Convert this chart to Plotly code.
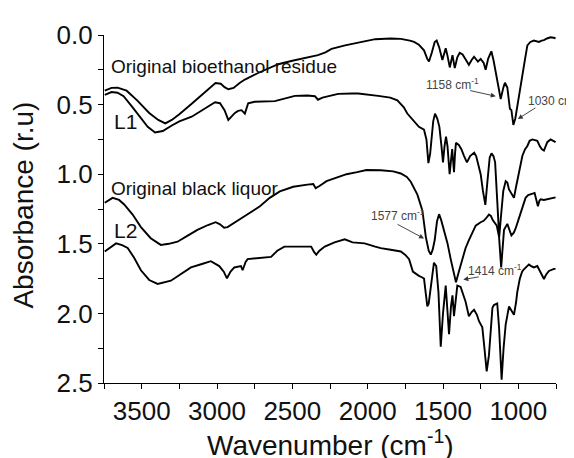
import plotly.graph_objects as go

# ---------------- data ----------------
bio_wn = [3745, 3700, 3660, 3600, 3530, 3450, 3390, 3343, 3300, 3250, 3168, 3080, 3010, 2975, 2950, 2925,
          2890, 2850, 2815, 2727, 2650, 2594, 2500, 2400, 2330, 2280, 2240, 2150, 2020, 1950, 1847, 1780,
          1720, 1692, 1660, 1626, 1605, 1593, 1575, 1555, 1542, 1525, 1504, 1482, 1470, 1455, 1437, 1422,
          1405, 1389, 1370, 1356, 1328, 1310, 1294, 1268, 1250, 1230, 1217, 1200, 1179, 1165, 1157, 1140,
          1122, 1117, 1100, 1089, 1073, 1056, 1046, 1040, 1033, 1020, 1007, 990, 973, 955, 940, 920, 897,
          880, 863, 845, 830, 810, 786, 765, 753]
bio_abs = [0.40, 0.38, 0.378, 0.40, 0.47, 0.56, 0.61, 0.635, 0.61, 0.57, 0.494, 0.41, 0.345, 0.35, 0.375, 0.39,
           0.38, 0.345, 0.32, 0.273, 0.235, 0.21, 0.185, 0.16, 0.145, 0.125, 0.10, 0.075, 0.045, 0.03, 0.025, 0.028,
           0.04, 0.05, 0.07, 0.11, 0.17, 0.19, 0.13, 0.05, 0.04, 0.09, 0.18, 0.095, 0.15, 0.233, 0.145, 0.238,
           0.16, 0.128, 0.14, 0.163, 0.214, 0.18, 0.156, 0.191, 0.172, 0.20, 0.25, 0.17, 0.117, 0.18, 0.226, 0.34,
           0.448, 0.46, 0.38, 0.343, 0.378, 0.53, 0.54, 0.60, 0.646, 0.60, 0.52, 0.40, 0.284, 0.17, 0.075, 0.05, 0.04,
           0.045, 0.05, 0.04, 0.037, 0.025, 0.016, 0.02, 0.023]

l1_wn = [3745, 3700, 3660, 3620, 3560, 3500, 3460, 3411, 3360, 3300, 3250, 3168, 3100, 3013, 2980, 2950,
         2925, 2900, 2881, 2860, 2837, 2815, 2793, 2750, 2616, 2483, 2400, 2350, 2330, 2300, 2196, 2100,
         2063, 1930, 1850, 1803, 1760, 1737, 1692, 1660, 1626, 1610, 1597, 1585, 1565, 1553, 1538, 1524,
         1510, 1500, 1490, 1480, 1470, 1456, 1445, 1439, 1433, 1427, 1420, 1414, 1395, 1378, 1360, 1341,
         1320, 1293, 1280, 1268, 1250, 1235, 1219, 1205, 1190, 1178, 1165, 1154, 1140, 1127, 1115, 1100,
         1084, 1073, 1062, 1045, 1029, 1015, 996, 973, 955, 940, 925, 907, 890, 874, 857, 845, 830, 820,
         808, 786, 765, 753]
l1_abs = [0.43, 0.41, 0.415, 0.44, 0.52, 0.60, 0.66, 0.70, 0.69, 0.65, 0.62, 0.587, 0.54, 0.483, 0.49, 0.54,
          0.61, 0.58, 0.56, 0.545, 0.54, 0.565, 0.49, 0.48, 0.475, 0.437, 0.435, 0.44, 0.465, 0.45, 0.423, 0.42,
          0.42, 0.437, 0.45, 0.47, 0.52, 0.564, 0.622, 0.66, 0.68, 0.75, 0.92, 0.85, 0.62, 0.565, 0.60, 0.66,
          0.80, 0.915, 0.80, 0.73, 0.80, 1.0, 0.88, 0.82, 0.90, 0.985, 0.85, 0.775, 0.79, 0.82, 0.87, 0.915,
          0.87, 0.845, 0.87, 0.915, 1.0, 1.12, 1.22, 1.05, 0.88, 0.85, 0.87, 0.915, 1.15, 1.45, 1.30, 1.12,
          1.05, 1.06, 1.11, 1.14, 1.17, 1.09, 0.98, 0.867, 0.82, 0.797, 0.76, 0.75, 0.755, 0.76, 0.80, 0.82, 0.83, 0.80,
          0.77, 0.75, 0.765, 0.77]

bl_wn = [3745, 3693, 3650, 3616, 3560, 3505, 3440, 3373, 3320, 3262, 3200, 3130, 3060, 3009, 2980, 2953,
         2930, 2900, 2860, 2815, 2715, 2650, 2583, 2494, 2400, 2361, 2345, 2320, 2273, 2200, 2140, 2070,
         2008, 1913, 1830, 1780, 1740, 1714, 1690, 1670, 1637, 1614, 1595, 1581, 1568, 1555, 1540, 1526,
         1512, 1497, 1470, 1449, 1430, 1414, 1395, 1372, 1350, 1328, 1305, 1283, 1250, 1230, 1217, 1195,
         1182, 1170, 1143, 1128, 1114, 1105, 1095, 1073, 1060, 1046, 1030, 1018, 1000, 985, 968, 952, 935,
         918, 905, 892, 880, 870, 860, 852, 830, 808, 780, 753]
bl_abs = [1.205, 1.17, 1.185, 1.217, 1.29, 1.38, 1.46, 1.508, 1.50, 1.485, 1.445, 1.40, 1.365, 1.345, 1.36, 1.385,
          1.38, 1.36, 1.335, 1.30, 1.23, 1.17, 1.124, 1.09, 1.075, 1.07, 1.10, 1.085, 1.05, 1.02, 1.0, 0.985,
          0.97, 0.972, 0.98, 0.995, 1.02, 1.054, 1.10, 1.147, 1.26, 1.45, 1.55, 1.578, 1.54, 1.473, 1.34, 1.287,
          1.33, 1.39, 1.497, 1.61, 1.70, 1.776, 1.70, 1.61, 1.53, 1.473, 1.42, 1.37, 1.345, 1.335, 1.32, 1.29,
          1.30, 1.33, 1.37, 1.45, 1.67, 1.50, 1.40, 1.357, 1.40, 1.44, 1.42, 1.39, 1.33, 1.275, 1.21, 1.17, 1.15,
          1.147, 1.14, 1.135, 1.18, 1.23, 1.19, 1.18, 1.185, 1.18, 1.17, 1.166]

l2_wn = [3745, 3670, 3630, 3593, 3550, 3505, 3450, 3394, 3306, 3240, 3173, 3100, 3041, 2985, 2955, 2934,
         2910, 2885, 2860, 2841, 2830, 2810, 2797, 2700, 2641, 2600, 2553, 2450, 2375, 2355, 2341, 2320,
         2285, 2220, 2152, 2100, 2020, 1950, 1913, 1847, 1780, 1750, 1725, 1700, 1692, 1676, 1660, 1640,
         1626, 1615, 1604, 1595, 1580, 1560, 1545, 1530, 1515, 1500, 1482, 1472, 1460, 1447, 1437, 1427,
         1415, 1405, 1383, 1365, 1350, 1328, 1310, 1294, 1275, 1261, 1239, 1225, 1210, 1195, 1184, 1172,
         1162, 1140, 1128, 1111, 1098, 1084, 1062, 1045, 1029, 1015, 1007, 990, 975, 963, 945, 930, 915,
         897, 874, 852, 840, 830, 815, 797, 764, 753]
l2_abs = [1.555, 1.497, 1.51, 1.53, 1.60, 1.69, 1.76, 1.788, 1.765, 1.72, 1.67, 1.645, 1.625, 1.66, 1.70, 1.748,
          1.70, 1.67, 1.665, 1.66, 1.69, 1.63, 1.61, 1.60, 1.594, 1.55, 1.52, 1.52, 1.52, 1.56, 1.578, 1.55,
          1.52, 1.49, 1.468, 1.49, 1.497, 1.52, 1.531, 1.543, 1.555, 1.58, 1.61, 1.70, 1.706, 1.72, 1.73, 1.74,
          1.75, 1.85, 1.95, 1.93, 1.80, 1.636, 1.66, 1.85, 2.24, 2.00, 1.80, 1.95, 2.149, 1.95, 1.87, 2.02,
          1.87, 1.80, 1.81, 1.86, 1.916, 2.02, 1.99, 1.974, 2.01, 2.056, 2.10, 2.25, 2.417, 2.30, 2.126, 1.96,
          1.94, 1.928, 2.10, 2.476, 2.25, 2.08, 1.95, 1.98, 2.01, 1.92, 1.846, 1.75, 1.70, 1.683, 1.66, 1.648, 1.66,
          1.67, 1.66, 1.706, 1.73, 1.753, 1.72, 1.695, 1.68, 1.68]

curve_labels = ["Original bioethanol residue", "L1", "Original black liquor", "L2"]
label_x = [3715, 3699, 3715, 3699]
label_y = [0.226, 0.622, 1.10, 1.408]
label_size = [19, 21, 19, 21]

peak_text = ["1158 cm<sup>-1</sup>", "1030 cm<sup>-1</sup>", "1577 cm<sup>-1</sup>", "1414 cm<sup>-1</sup>"]
peak_text_x = [1626, 952, 1993, 1349]
peak_text_y = [0.35, 0.465, 1.295, 1.685]
arrow_tip_x = [1150, 1003, 1626, 1365]
arrow_tip_y = [0.44, 0.603, 1.462, 1.757]
arrow_ax = [-27, 19, -28, 17]
arrow_ay = [-6, -12, -15, -3]

FONT = "Arial, Liberation Sans, sans-serif"

fig = go.Figure()
for wn, ab in [(bio_wn, bio_abs), (l1_wn, l1_abs), (bl_wn, bl_abs), (l2_wn, l2_abs)]:
    fig.add_trace(go.Scatter(x=wn, y=ab, mode="lines", line=dict(color="black", width=1.9),
                             showlegend=False, hoverinfo="skip"))

annotations = []
for t, x, y, s in zip(curve_labels, label_x, label_y, label_size):
    annotations.append(dict(x=x, y=y, xref="x", yref="y", text=t, showarrow=False,
                            xanchor="left", yanchor="middle",
                            font=dict(family=FONT, size=s, color="#111")))
for t, x, y in zip(peak_text, peak_text_x, peak_text_y):
    annotations.append(dict(x=x, y=y, xref="x", yref="y", text=t, showarrow=False,
                            xanchor="left", yanchor="middle",
                            font=dict(family=FONT, size=12, color="#444")))
for x, y, ax, ay in zip(arrow_tip_x, arrow_tip_y, arrow_ax, arrow_ay):
    annotations.append(dict(x=x, y=y, xref="x", yref="y", text="", showarrow=True,
                            ax=ax, ay=ay, arrowhead=2, arrowsize=1.1, arrowwidth=0.9,
                            arrowcolor="#333"))
annotations.append(dict(x=0.502, y=-0.172, xref="paper", yref="paper",
                        text="Wavenumber (cm<sup>-1</sup>)", showarrow=False,
                        xanchor="center", yanchor="middle",
                        font=dict(family=FONT, size=28, color="#111")))
annotations.append(dict(x=-0.179, y=0.51, xref="paper", yref="paper",
                        text="Absorbance (r.u)", showarrow=False, textangle=-90,
                        xanchor="center", yanchor="middle",
                        font=dict(family=FONT, size=28, color="#111")))

# the page body adds an 8px margin, so the figure is 8px smaller on each side
fig.update_layout(
    width=566, height=450,
    margin=dict(l=96, r=18, t=18, b=75),
    paper_bgcolor="white", plot_bgcolor="white",
    annotations=annotations,
    font=dict(family=FONT, color="#111"),
)
fig.update_xaxes(range=[3750, 750], tick0=1000, dtick=500, ticks="outside", ticklen=5,
                 tickwidth=1.2, tickcolor="black", showline=True, linecolor="black", linewidth=1.3,
                 showgrid=False, zeroline=False, tickfont=dict(family=FONT, size=26, color="#111"),
                 minor=dict(dtick=250, tick0=750, ticks="outside", ticklen=5, tickwidth=1.2,
                            tickcolor="black", showgrid=False))
fig.update_yaxes(range=[2.5, 0], tick0=0, dtick=0.5, tickformat=".1f", ticks="outside", ticklen=5,
                 tickwidth=1.2, tickcolor="black", showline=True, linecolor="black", linewidth=1.3,
                 showgrid=False, zeroline=False, tickfont=dict(family=FONT, size=26, color="#111"),
                 minor=dict(dtick=0.25, tick0=0, ticks="outside", ticklen=5, tickwidth=1.2,
                            tickcolor="black", showgrid=False))

fig.write_html("out.html")
